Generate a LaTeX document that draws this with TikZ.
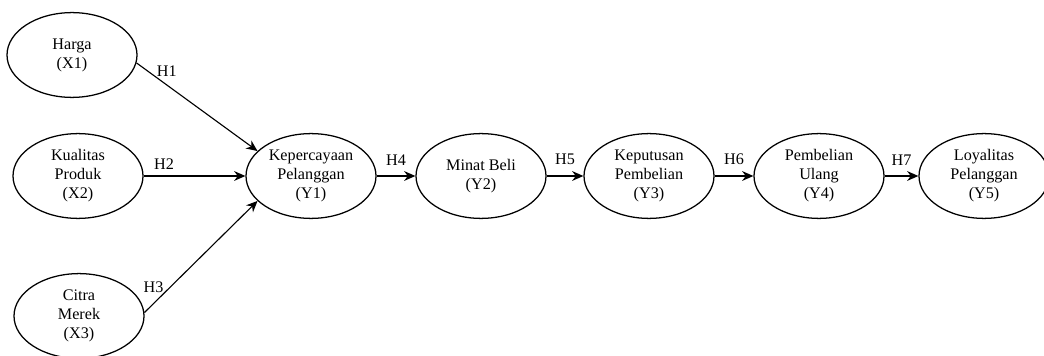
\documentclass[tikz,border=0pt]{standalone}
\usepackage{fontspec}
\setmainfont{Liberation Serif}
\usetikzlibrary{shapes,arrows.meta,positioning}

\begin{document}
\begin{tikzpicture}[
        variabel/.style={ellipse, draw, line width=0.9pt, inner sep=0pt, minimum width=3.25cm, minimum height=2.12cm, align=center, font=\fontsize{11.5}{13.5}\selectfont},
        arrow/.style={-{Stealth[length=8pt,width=7pt]}, line width=0.8pt},
        hlabel/.style={font=\fontsize{11.5}{13.5}\selectfont}
    ]
        \useasboundingbox (0,0) rectangle (26.1,-8.9);

        % Independent variables
        \node[variabel] (harga) at (1.8,-1.375) {Harga\\(X1)};
        \node[variabel] (kualitas) at (1.95,-4.4) {Kualitas\\Produk\\(X2)};
        \node[variabel] (citra) at (1.975,-7.9) {Citra\\Merek\\(X3)};

        % Chain of dependent variables
        \node[variabel] (kepercayaan) at (7.775,-4.4) {Kepercayaan\\Pelanggan\\(Y1)};
        \node[variabel] (minat) at (12.025,-4.4) {Minat Beli\\(Y2)};
        \node[variabel] (keputusan) at (16.225,-4.4) {Keputusan\\Pembelian\\(Y3)};
        \node[variabel] (ulang) at (20.475,-4.4) {Pembelian\\Ulang\\(Y4)};
        \node[variabel] (loyalitas) at (24.6,-4.4) {Loyalitas\\Pelanggan\\(Y5)};

        % Hypotheses H1 - H3
        \draw[arrow] (harga.-7) -- node[hlabel, pos=0.25, above=2pt] {H1} (kepercayaan.155);
        \draw[arrow] (kualitas) -- node[hlabel, pos=0.2, above=1pt] {H2} (kepercayaan);
        \draw[arrow] (citra.3) -- node[hlabel, pos=0.08, above=4pt] {H3} (kepercayaan.205);

        % Hypotheses H4 - H7
        \draw[arrow] (kepercayaan) -- node[hlabel, above=4pt] {H4} (minat);
        \draw[arrow] (minat) -- node[hlabel, above=4pt] {H5} (keputusan);
        \draw[arrow] (keputusan) -- node[hlabel, above=4pt] {H6} (ulang);
        \draw[arrow] (ulang) -- node[hlabel, above=4pt] {H7} (loyalitas);

    \end{tikzpicture}
\end{document}
